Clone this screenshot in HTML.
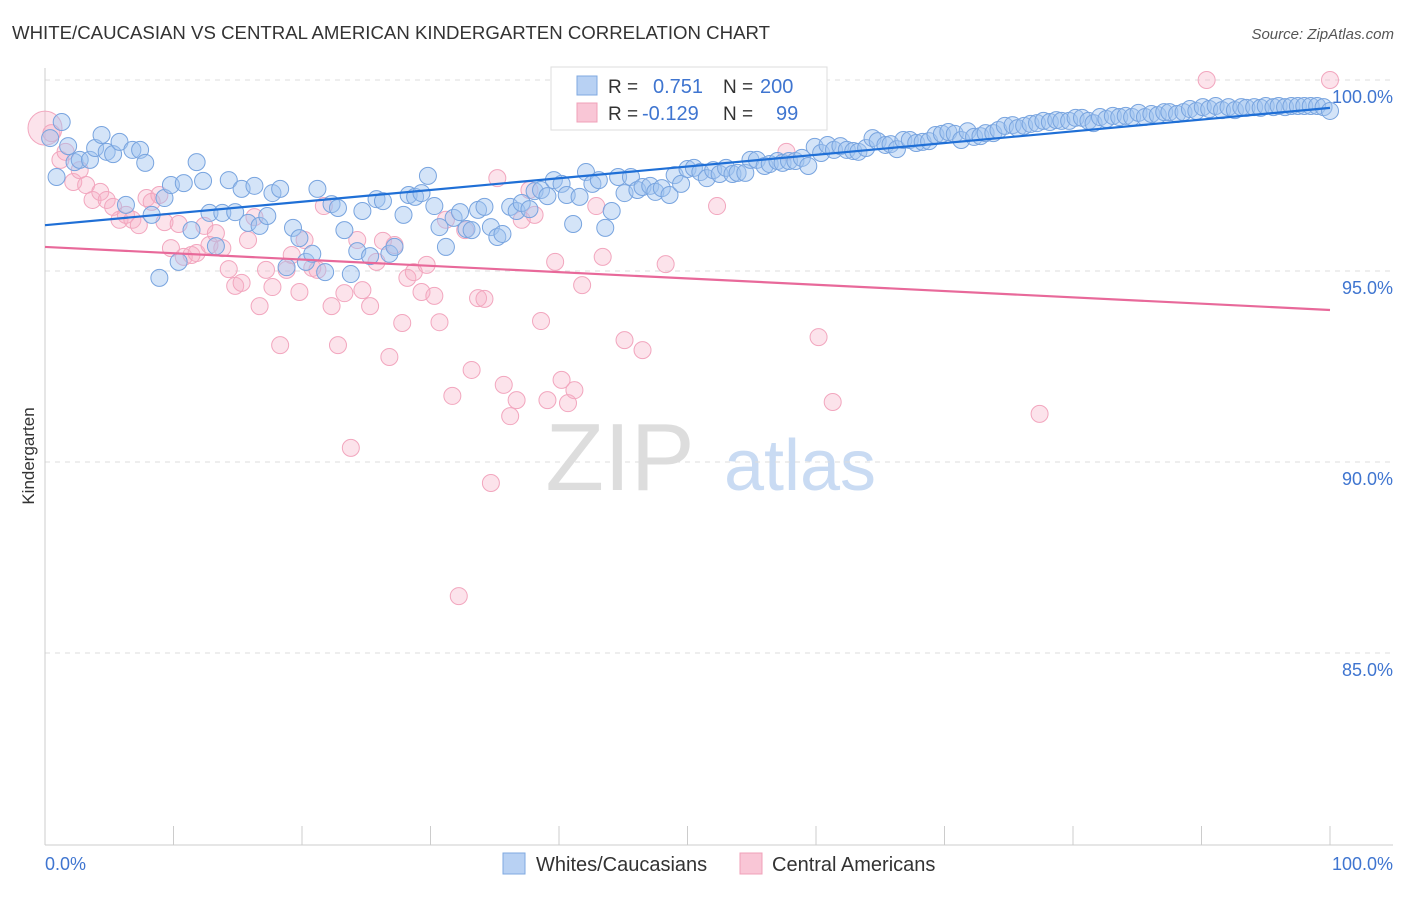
<!DOCTYPE html>
<html><head><meta charset="utf-8"><style>
body{margin:0;background:#fff;font-family:"Liberation Sans",sans-serif;}
svg text{font-family:"Liberation Sans",sans-serif;}
</style></head><body>
<svg id="c" width="1406" height="892">
<text x="12" y="39" font-size="18" fill="#333" textLength="758" lengthAdjust="spacingAndGlyphs">WHITE/CAUCASIAN VS CENTRAL AMERICAN KINDERGARTEN CORRELATION CHART</text>
<text x="1394" y="39" font-size="15" fill="#555" font-style="italic" text-anchor="end">Source: ZipAtlas.com</text>
<text x="34" y="456" font-size="17" fill="#333" transform="rotate(-90 34 456)" text-anchor="middle">Kindergarten</text>
<text x="620" y="490" font-size="96" fill="#ddd" font-family="Liberation Serif" text-anchor="middle">ZIP</text>
<text x="800" y="490" font-size="72" fill="#c9dbf3" text-anchor="middle">atlas</text>
<g id="grid"></g><g id="pts"></g><g id="lines"></g>
<g>
<rect x="551" y="67" width="276" height="63" fill="#fff" stroke="#ddd"/>
<rect x="577" y="76" width="20" height="19" fill="#b8d1f3" stroke="#7fa9e0"/>
<rect x="577" y="103" width="20" height="19" fill="#f9c6d6" stroke="#f0a0b8"/>
<text x="608" y="93" font-size="19" fill="#333">R =</text><text x="653" y="93" font-size="20" fill="#3f75d0">0.751</text>
<text x="723" y="93" font-size="19" fill="#333">N =</text><text x="760" y="93" font-size="20" fill="#3f75d0">200</text>
<text x="608" y="120" font-size="19" fill="#333">R =</text><text x="642" y="120" font-size="20" fill="#3f75d0">-0.129</text>
<text x="723" y="120" font-size="19" fill="#333">N =</text><text x="776" y="120" font-size="20" fill="#3f75d0">99</text>
</g>
<g>
<rect x="503" y="853" width="22" height="21" fill="#b8d1f3" stroke="#7fa9e0"/>
<text x="536" y="871" font-size="20" fill="#333">Whites/Caucasians</text>
<rect x="740" y="853" width="22" height="21" fill="#f9c6d6" stroke="#f0a0b8"/>
<text x="772" y="871" font-size="20" fill="#333">Central Americans</text>
</g>
<text x="45" y="870" font-size="18" fill="#3f75d0">0.0%</text>
<text x="1393" y="870" font-size="18" fill="#3f75d0" text-anchor="end">100.0%</text>
</svg>
<script>
const yTicks=[100,95,90,85];
const yTickLabels=["100.0%","95.0%","90.0%","85.0%"];
const xTicks=[0,10,20,30,40,50,60,70,80,90,100];
const blueX=[0.4,0.9,1.3,1.8,2.3,2.7,3.5,3.9,4.4,4.8,5.3,5.8,6.3,6.8,7.4,7.8,8.3,8.9,9.3,9.8,10.4,10.8,11.4,11.8,12.3,12.8,13.3,13.8,14.3,14.8,15.3,15.8,16.3,16.7,17.3,17.7,18.3,18.8,19.3,19.8,20.3,20.8,21.2,21.8,22.3,22.8,23.3,23.8,24.3,24.7,25.3,25.8,26.3,26.8,27.2,27.9,28.3,28.8,29.3,29.8,30.3,30.7,31.2,31.8,32.3,32.8,33.2,33.7,34.2,34.7,35.2,35.6,36.2,36.7,37.1,37.7,38.1,38.6,39.1,39.6,40.2,40.6,41.1,41.6,42.1,42.6,43.1,43.6,44.1,44.6,45.1,45.6,46.1,46.5,47.1,47.5,48.0,48.6,49.0,49.5,50.0,50.5,51.0,51.5,52.0,52.5,53.0,53.5,53.9,54.5,54.9,55.4,56.0,56.4,57.0,57.4,57.9,58.4,58.9,59.4,59.9,60.4,60.9,61.4,61.9,62.4,62.9,63.3,63.9,64.4,64.8,65.4,65.8,66.3,66.8,67.3,67.8,68.3,68.8,69.3,69.8,70.3,70.8,71.3,71.8,72.3,72.8,73.2,73.8,74.2,74.7,75.3,75.7,76.2,76.7,77.2,77.7,78.2,78.7,79.1,79.7,80.2,80.7,81.2,81.6,82.1,82.6,83.1,83.6,84.1,84.6,85.1,85.6,86.1,86.6,87.1,87.5,88.1,88.6,89.1,89.6,90.1,90.6,91.1,91.6,92.1,92.6,93.1,93.5,94.1,94.6,95.0,95.6,96.0,96.5,97.0,97.5,98.0,98.5,99.0,99.5,100];
const blueY=[98.48,97.46,98.90,98.27,97.85,97.91,97.91,98.22,98.56,98.12,98.06,98.38,96.73,98.17,98.17,97.83,96.47,94.82,96.91,97.25,95.24,97.30,96.07,97.85,97.36,96.52,95.65,96.52,97.38,96.54,97.15,96.26,97.23,96.18,96.44,97.04,97.15,95.10,96.13,95.86,95.24,95.45,97.15,94.97,96.75,96.65,96.07,94.92,95.52,96.57,95.39,96.88,96.83,95.45,95.63,96.47,96.99,96.94,97.04,97.49,96.70,96.15,95.63,96.39,96.54,96.10,96.07,96.60,96.68,96.15,95.89,95.97,96.68,96.57,96.78,96.62,97.09,97.12,96.96,97.38,97.28,96.99,96.23,96.94,97.59,97.28,97.38,96.13,96.57,97.46,97.04,97.46,97.12,97.20,97.23,97.07,97.17,96.99,97.51,97.28,97.67,97.70,97.59,97.43,97.64,97.54,97.70,97.54,97.57,97.57,97.91,97.91,97.75,97.80,97.88,97.83,97.88,97.88,97.96,97.75,98.25,98.09,98.30,98.17,98.27,98.17,98.14,98.12,98.22,98.48,98.40,98.30,98.32,98.19,98.43,98.43,98.35,98.38,98.40,98.56,98.59,98.64,98.59,98.43,98.66,98.51,98.53,98.61,98.61,98.69,98.80,98.82,98.74,98.80,98.85,98.87,98.93,98.90,98.95,98.93,98.93,99.01,99.01,98.93,98.87,99.03,98.98,99.06,99.03,99.06,99.03,99.14,99.03,99.11,99.08,99.16,99.16,99.11,99.16,99.24,99.19,99.29,99.24,99.32,99.21,99.29,99.21,99.29,99.27,99.29,99.27,99.32,99.29,99.32,99.29,99.32,99.32,99.32,99.32,99.32,99.29,99.19];
const pinkX=[0,0.5,1.2,1.6,2.2,2.7,3.2,3.7,4.3,4.8,5.3,5.8,6.3,6.8,7.3,7.9,8.3,8.9,9.3,9.8,10.4,10.8,11.4,11.8,12.4,12.8,13.3,13.8,14.3,14.8,15.3,15.8,16.3,16.7,17.2,17.7,18.3,18.8,19.2,19.8,20.2,20.8,21.2,21.7,22.3,22.8,23.3,23.8,24.3,24.7,25.3,25.8,26.3,26.8,27.2,27.8,28.2,28.7,29.3,29.7,30.3,30.7,31.2,31.7,32.2,32.7,33.2,33.7,34.2,34.7,35.2,35.7,36.2,36.7,37.1,37.7,38.1,38.6,39.1,39.7,40.2,40.7,41.2,41.8,42.9,43.4,45.1,46.5,46.8,48.3,49.0,52.3,57.7,59.9,60.2,61.3,77.4,90.4,100];
const pinkY=[98.74,98.61,97.91,98.12,97.33,97.64,97.25,96.86,97.07,96.86,96.68,96.34,96.47,96.34,96.20,96.91,96.81,96.99,96.28,95.60,96.23,95.37,95.42,95.47,96.18,95.68,95.99,95.60,95.05,94.61,94.69,95.81,96.41,94.08,95.03,94.58,93.06,95.03,95.42,94.45,95.81,95.08,95.03,96.70,94.08,93.06,94.42,90.37,95.81,94.50,94.08,95.24,95.79,92.75,95.68,93.64,94.82,94.97,94.45,95.16,94.35,93.66,96.34,91.73,86.49,96.07,92.41,94.29,94.27,89.45,97.43,92.02,91.20,91.62,96.34,97.12,96.47,93.69,91.62,95.24,92.15,91.54,91.88,94.63,96.70,95.37,93.19,92.93,99.16,95.18,100.1,96.70,98.12,100.03,93.27,91.57,91.26,100.0,100.0];
const blueTrend=[96.2,99.27];
const pinkTrend=[95.63,93.98];
const NS='http://www.w3.org/2000/svg';
const X0=45,X1=1330,Y100=80,PX5=191;
const sx=v=>X0+(X1-X0)*v/100;
const sy=v=>Y100+(100-v)*PX5/5;
function mk(tag,attrs,parent){const e=document.createElementNS(NS,tag);for(const k in attrs)e.setAttribute(k,attrs[k]);parent.appendChild(e);return e;}
const grid=document.getElementById('grid');
yTicks.forEach((t,i)=>{
 const l=mk('line',{x1:X0,x2:1393,y1:sy(t),y2:sy(t),stroke:'#ddd','stroke-dasharray':'5,5'},grid);
 
 
 const tx=mk('text',{x:1393,y:sy(t)+23,'font-size':18,fill:'#3f75d0','text-anchor':'end'},grid);
 tx.textContent=yTickLabels[i];
 
 
});
const ax=mk('line',{x1:X0,x2:X0,y1:68,y2:845,stroke:'#ccc'},grid);


const bx=mk('line',{x1:X0,x2:1393,y1:845,y2:845,stroke:'#ccc'},grid);


xTicks.forEach(t=>{
 const l=mk('line',{x1:sx(t),x2:sx(t),y1:826,y2:845,stroke:'#ccc'},grid);
 
 
});
const pts=document.getElementById('pts');
pinkX.forEach((x,i)=>{
 const c=mk('circle',{cx:sx(x),cy:sy(pinkY[i]),r:i===0?17:8.5,fill:'rgba(246,176,198,0.35)',stroke:'#f2a6be','stroke-width':1},pts);
 
 
});
blueX.forEach((x,i)=>{
 const c=mk('circle',{cx:sx(x),cy:sy(blueY[i]),r:8.5,fill:'rgba(160,195,240,0.45)',stroke:'#78a4df','stroke-width':1},pts);
 
 
});
const lines=document.getElementById('lines');
const bl=mk('line',{x1:sx(0),x2:sx(100),y1:sy(blueTrend[0]),y2:sy(blueTrend[1]),stroke:'#1f6fd6','stroke-width':2.2},lines);


const pl=mk('line',{x1:sx(0),x2:sx(100),y1:sy(pinkTrend[0]),y2:sy(pinkTrend[1]),stroke:'#e8699a','stroke-width':2.2},lines);


</script>
</body></html>
